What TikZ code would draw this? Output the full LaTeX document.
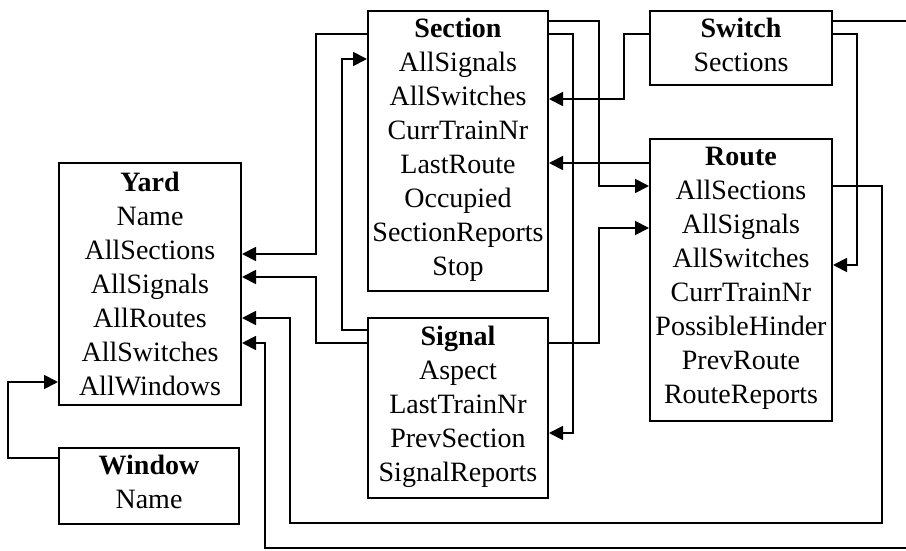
\documentclass[tikz,border=0pt]{standalone}
\usepackage{fontspec}
\setmainfont{Liberation Serif}
\usetikzlibrary{arrows.meta,calc}
\tikzset{
  cls/.style={draw, line width=1pt, anchor=north west, inner sep=0pt},
  lbl/.style={anchor=north, inner sep=0pt, align=center,
    font=\fontsize{14}{17}\selectfont, execute at begin node=\strut},
  conn/.style={line width=0.9pt, -{Triangle[length=7pt,width=7pt]}},
}
\begin{document}
\begin{tikzpicture}[x=0.5pt, y=-0.5pt]
\clip (0,0) rectangle (906,551);
\fill[white] (0,0) rectangle (906,551);

% class boxes
\node[cls, minimum width=91pt, minimum height=121pt] (yard) at (58,162) {};
\node[cls, minimum width=90pt, minimum height=38pt] (window) at (58,447) {};
\node[cls, minimum width=90pt, minimum height=140pt] (section) at (367,10) {};
\node[cls, minimum width=90pt, minimum height=90pt] (signal) at (367,317) {};
\node[cls, minimum width=91pt, minimum height=37pt] (switch) at (649,10) {};
\node[cls, minimum width=91pt, minimum height=141pt] (route) at (649,138) {};

% attribute lists
\node[lbl] (yardtxt) at ($(yard.north)+(0,10)$)
  {\textbf{Yard}\\Name\\AllSections\\AllSignals\\AllRoutes\\AllSwitches\\AllWindows};
\node[lbl] (windowtxt) at ($(window.north)+(0,8)$)
  {\textbf{Window}\\Name};
\node[lbl] (sectiontxt) at ($(section.north)+(0,8)$)
  {\textbf{Section}\\AllSignals\\AllSwitches\\CurrTrainNr\\LastRoute\\Occupied\\SectionReports\\Stop};
\node[lbl] (signaltxt) at ($(signal.north)+(0,9)$)
  {\textbf{Signal}\\Aspect\\LastTrainNr\\PrevSection\\SignalReports};
\node[lbl] (switchtxt) at ($(switch.north)+(0,8)$)
  {\textbf{Switch}\\Sections};
\node[lbl] (routetxt) at ($(route.north)+(0,9)$)
  {\textbf{Route}\\AllSections\\AllSignals\\AllSwitches\\CurrTrainNr\\PossibleHinder\\PrevRoute\\RouteReports};

% references between classes
\draw[conn] (section.west |- 0,34) -| (316,254) -- (yard.east |- 0,254);
\draw[conn] (signal.west |- 0,343) -| (316,277) -- (yard.east |- 0,277);
\draw[conn] (signal.west |- 0,330) -| (342,59) -- (section.west |- 0,59);
\draw[conn] (route.east |- 0,186) -| (882,523) -| (290,318) -- (yard.east |- 0,318);
\draw[conn] (switch.east |- 0,21) -| (912,548) -| (265,343) -- (yard.east |- 0,343);
\draw[conn] (section.east |- 0,21) -| (599,186) -- (route.west |- 0,186);
\draw[conn] (section.east |- 0,34) -| (573,433) -- (signal.east |- 0,433);
\draw[conn] (switch.west |- 0,34) -| (624,99) -- (section.east |- 0,99);
\draw[conn] (route.west |- 0,163) -- (section.east |- 0,163);
\draw[conn] (signal.east |- 0,343) -| (599,228) -- (route.west |- 0,228);
\draw[conn] (switch.east |- 0,34) -| (857,265) -- (route.east |- 0,265);
\draw[conn] (window.west |- 0,458) -| (8,382) -- (yard.west |- 0,382);
\end{tikzpicture}
\end{document}
